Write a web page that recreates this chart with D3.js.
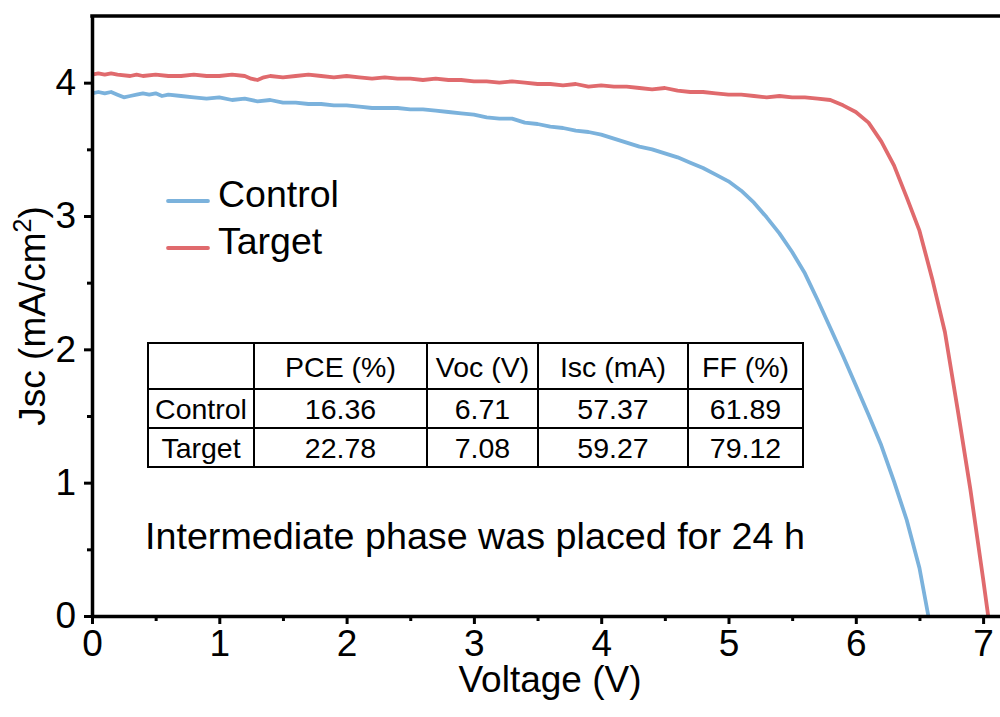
<!DOCTYPE html>
<html><head><meta charset="utf-8">
<script src="https://cdn.jsdelivr.net/npm/d3@7"></script>
<style>
body{margin:0;background:#fff;}
text{font-family:"Liberation Sans",Arial,sans-serif;fill:#000;}
</style></head>
<body><svg id="c" width="1000" height="717"></svg>
<script>
const seriesNames = ["Control", "Target"];
const controlV = [0.00,0.05,0.10,0.15,0.20,0.25,0.30,0.35,0.40,0.45,0.50,0.55,0.60,0.70,0.80,0.90,1.00,1.10,1.20,1.30,1.40,1.50,1.60,1.70,1.80,1.90,2.00,2.10,2.20,2.30,2.40,2.50,2.60,2.70,2.80,2.90,3.00,3.10,3.20,3.30,3.40,3.50,3.60,3.70,3.80,3.90,4.00,4.10,4.20,4.30,4.40,4.50,4.60,4.70,4.80,4.90,5.00,5.10,5.20,5.30,5.40,5.50,5.60,5.70,5.80,5.90,6.00,6.10,6.20,6.30,6.40,6.50,6.57];
const controlJ = [3.92,3.93,3.92,3.93,3.91,3.89,3.90,3.91,3.92,3.91,3.92,3.90,3.91,3.90,3.89,3.88,3.89,3.87,3.88,3.86,3.87,3.85,3.85,3.84,3.84,3.83,3.83,3.82,3.81,3.81,3.81,3.80,3.80,3.79,3.78,3.77,3.76,3.74,3.73,3.73,3.70,3.69,3.67,3.66,3.64,3.63,3.61,3.58,3.55,3.52,3.50,3.47,3.44,3.40,3.36,3.31,3.26,3.19,3.10,2.99,2.87,2.73,2.57,2.37,2.16,1.95,1.73,1.51,1.28,1.01,0.72,0.36,0.00];
const targetV = [0.00,0.05,0.10,0.15,0.20,0.30,0.35,0.40,0.50,0.60,0.70,0.80,0.90,1.00,1.10,1.20,1.25,1.30,1.35,1.40,1.50,1.60,1.70,1.80,1.90,2.00,2.10,2.20,2.30,2.40,2.50,2.60,2.70,2.80,2.90,3.00,3.10,3.20,3.30,3.40,3.50,3.60,3.70,3.80,3.90,4.00,4.10,4.20,4.30,4.40,4.50,4.60,4.70,4.80,4.90,5.00,5.10,5.20,5.30,5.40,5.50,5.60,5.70,5.80,5.90,6.00,6.10,6.20,6.30,6.40,6.50,6.60,6.70,6.80,6.90,7.00,7.04];
const targetJ = [4.06,4.07,4.06,4.07,4.06,4.05,4.06,4.05,4.06,4.05,4.05,4.06,4.05,4.05,4.06,4.05,4.03,4.02,4.04,4.05,4.04,4.05,4.06,4.05,4.04,4.05,4.04,4.03,4.04,4.03,4.03,4.02,4.03,4.02,4.02,4.01,4.01,4.00,4.01,4.00,3.99,3.99,3.98,3.99,3.97,3.98,3.97,3.97,3.96,3.95,3.96,3.94,3.93,3.93,3.92,3.91,3.91,3.90,3.89,3.90,3.89,3.89,3.88,3.87,3.83,3.78,3.70,3.56,3.38,3.14,2.89,2.53,2.13,1.55,0.95,0.28,0.00];
const xTicks = [0,1,2,3,4,5,6,7];
const xMinor = [0.5,1.5,2.5,3.5,4.5,5.5,6.5];
const yTicks = [0,1,2,3,4];
const yMinor = [0.5,1.5,2.5,3.5];
const tableHeader = ["", "PCE (%)", "Voc (V)", "Isc (mA)", "FF (%)"];
const tableRows = [["Control","16.36","6.71","57.37","61.89"],["Target","22.78","7.08","59.27","79.12"]];
const annotation = "Intermediate phase was placed for 24 h";

const colors = {Control:"#7bb2dc", Target:"#e06a6d"};
const svg = d3.select("#c");
const L = 92, T = 16, B = 616;
const x = d3.scaleLinear().domain([0,7.2]).range([L, L+7.2*127.3]);
const y = d3.scaleLinear().domain([0,4.5]).range([B, T]);

const line = d3.line().x(d=>x(d[0])).y(d=>y(d[1]));
const series = [
  {name:"Control", pts:controlV.map((v,i)=>[v,controlJ[i]])},
  {name:"Target", pts:targetV.map((v,i)=>[v,targetJ[i]])}
];
svg.selectAll("path.s").data(series).enter().append("path")
  .attr("fill","none").attr("stroke",d=>colors[d.name]).attr("stroke-width",3.8)
  .attr("stroke-linejoin","round").attr("d",d=>line(d.pts));

function styleAxis(g){
  g.selectAll(".domain").attr("stroke","#000").attr("stroke-width",3.5);
  g.selectAll(".tick line").attr("stroke","#000").attr("stroke-width",3);
  g.selectAll(".tick text").style("font-size","37px").style("font-family","Liberation Sans, Arial, sans-serif").attr("fill","#000");
}
// minor ticks
svg.append("g").attr("transform",`translate(0,${B})`)
  .call(d3.axisBottom(x).tickValues(xMinor).tickSize(5).tickFormat("").tickSizeOuter(0))
  .call(styleAxis).select(".domain").remove();
svg.append("g").attr("transform",`translate(${L},0)`)
  .call(d3.axisLeft(y).tickValues(yMinor).tickSize(5).tickFormat("").tickSizeOuter(0))
  .call(styleAxis).select(".domain").remove();
// major
svg.append("g").attr("transform",`translate(0,${B})`)
  .call(d3.axisBottom(x).tickValues(xTicks).tickSize(8).tickPadding(6).tickFormat(d3.format("d")).tickSizeOuter(0))
  .call(styleAxis);
svg.append("g").attr("transform",`translate(${L},0)`)
  .call(d3.axisLeft(y).tickValues(yTicks).tickSize(8).tickPadding(8).tickFormat(d3.format("d")).tickSizeOuter(0))
  .call(styleAxis);
// top border
svg.append("line").attr("x1",L-1.75).attr("x2",1000).attr("y1",T).attr("y2",T)
  .attr("stroke","#000").attr("stroke-width",3.5);

// axis titles
svg.append("text").attr("x",550).attr("y",692).attr("text-anchor","middle")
  .style("font-size","37px").text("Voltage (V)");
const yt = svg.append("text").attr("transform","translate(45,316) rotate(-90)")
  .attr("text-anchor","middle").style("font-size","37px");
yt.append("tspan").text("Jsc (mA/cm");
yt.append("tspan").attr("dy",-14).style("font-size","25px").text("2");
yt.append("tspan").attr("dy",14).text(")");

// legend
series.forEach((s,i)=>{
  const ly = 201 + i*47;
  svg.append("line").attr("x1",168).attr("x2",208).attr("y1",ly).attr("y2",ly)
    .attr("stroke",colors[s.name]).attr("stroke-width",3.8).attr("stroke-linecap","round");
  svg.append("text").attr("x",218).attr("y",ly+6).style("font-size","37.5px").text(s.name);
});

// table
const colX = [148,254,427,538,688,803];
const rowY = [343,389,428,467];
const tg = svg.append("g");
tg.append("rect").attr("x",colX[0]).attr("y",rowY[0]).attr("width",colX[5]-colX[0]).attr("height",rowY[3]-rowY[0])
  .attr("fill","none").attr("stroke","#000").attr("stroke-width",2);
colX.slice(1,5).forEach(cx=>tg.append("line").attr("x1",cx).attr("x2",cx).attr("y1",rowY[0]).attr("y2",rowY[3]).attr("stroke","#000").attr("stroke-width",2));
rowY.slice(1,3).forEach(ry=>tg.append("line").attr("x1",colX[0]).attr("x2",colX[5]).attr("y1",ry).attr("y2",ry).attr("stroke","#000").attr("stroke-width",2));
const allRows = [tableHeader].concat(tableRows);
allRows.forEach((row,r)=>{
  row.forEach((cell,c)=>{
    tg.append("text").attr("x",(colX[c]+colX[c+1])/2).attr("y",(rowY[r]+rowY[r+1])/2+10.5)
      .attr("text-anchor","middle").style("font-size","28.5px").text(cell);
  });
});

svg.append("text").attr("x",145).attr("y",549).style("font-size","37.7px").text(annotation);
</script></body></html>
